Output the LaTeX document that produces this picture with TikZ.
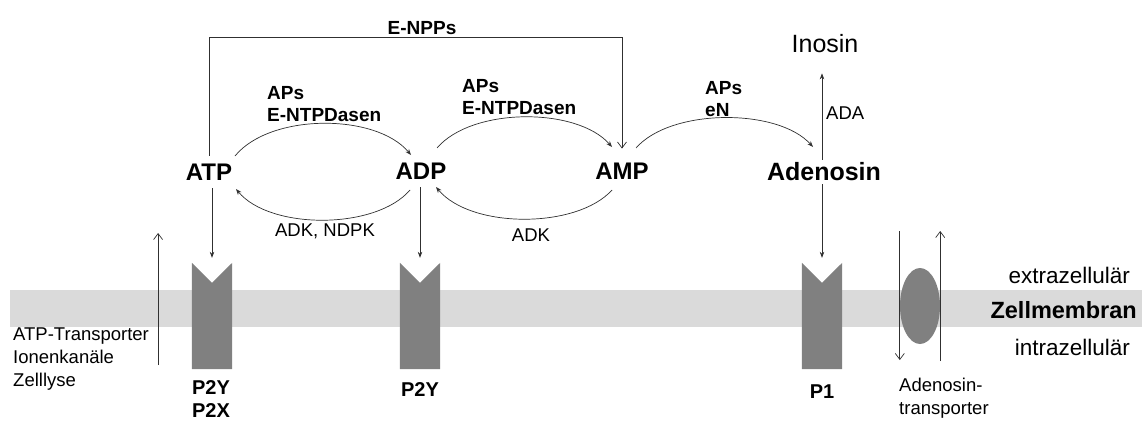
\documentclass[tikz,border=0pt]{standalone}
\usepackage{fontspec}
\setmainfont{Liberation Sans}
\usetikzlibrary{arrows.meta,calc,shapes.geometric}
\definecolor{membr}{HTML}{DADADA}
\definecolor{recep}{HTML}{808080}
\definecolor{ln}{HTML}{303030}
\begin{document}
\begin{tikzpicture}[x=1pt,y=-1pt,
  mol/.style={font=\fontsize{24}{28}\selectfont\bfseries,inner xsep=2pt,inner ysep=8pt},
  enz/.style={font=\fontsize{19}{22.5}\selectfont\bfseries,align=left,inner sep=0pt,anchor=west},
  reg/.style={font=\fontsize{18.5}{23}\selectfont,align=left,inner sep=0pt},
  side/.style={font=\fontsize{22.5}{26}\selectfont,inner sep=0pt,anchor=east},
  rlabel/.style={font=\fontsize{20}{22.5}\selectfont\bfseries,align=center,inner sep=0pt},
  rbox/.style={minimum width=40pt,minimum height=106pt,inner sep=0pt},
  conn/.style={draw=ln,line width=0.7pt},
  farr/.style={conn,-{Stealth[length=6pt,width=4.5pt]}},
  oarr/.style={conn,-{Straight Barb[length=6pt,width=9pt,line width=0.7pt]}}
]
\useasboundingbox (0,0) rectangle (1142,421);
% membrane
\fill[membr] (10,290) rectangle (1142,327);

% molecules
\node[mol] (ATP) at (209,172) {ATP};
\node[mol] (ADP) at (421,171) {ADP};
\node[mol] (AMP) at (622,171) {AMP};
\node[mol,font=\fontsize{25}{28}\selectfont\bfseries,inner ysep=3pt] (ADO) at (824,172) {Adenosin};
\node[font=\fontsize{25}{28}\selectfont,inner sep=2pt] (INO) at (825,44) {Inosin};

% enzyme labels
\node[font=\fontsize{19}{22}\selectfont\bfseries,inner sep=3pt] (ENPP) at (422,28) {E-NPPs};
\node[enz] (E1) at (267,104) {APs\\E-NTPDasen};
\node[enz] (E2) at (462,97) {APs\\E-NTPDasen};
\node[enz] (E3) at (705,99) {APs\\eN};
\node[reg,anchor=center] (K1) at (325,231) {ADK, NDPK};
\node[reg,anchor=center] (K2) at (531,235) {ADK};
\node[reg,anchor=west] (ADA) at (826,113) {ADA};

% receptors (placeholders + shapes)
\node[rbox] (R1) at (212,316) {};
\node[rbox] (R2) at (420,316) {};
\node[rbox] (R3) at (822,316) {};
\foreach \r in {R1,R2,R3}{
  \fill[recep] (\r.north west) -- ($(\r.north)+(0,20)$) -- (\r.north east) -- (\r.south east) -- (\r.south west) -- cycle;
}
\node[rlabel] (L1) at (211,399) {P2Y\\P2X};
\node[rlabel] (L2) at (420,390) {P2Y};
\node[rlabel] (L3) at (822,392) {P1};

% transporter
\node[ellipse,fill=recep,minimum width=40pt,minimum height=76pt,inner sep=0pt] (ENT) at (920,306) {};
\node[reg,anchor=north west] (TL) at (899,378) {Adenosin-\\transporter};

% side labels
\node[side] (EX) at (1130,275) {extrazellulär};
\node[side,font=\fontsize{23.5}{26}\selectfont\bfseries] (ZM) at (1137,310) {Zellmembran};
\node[side] (IN) at (1130,347) {intrazellulär};
\node[reg,anchor=north west] (SRC) at (13,328) {ATP-Transporter\\Ionenkanäle\\Zelllyse};

% E-NPPs bracket
\draw[oarr] (ATP.north) |- (ENPP.south) -| ([yshift=6pt]AMP.north);

% reaction arcs
\draw[farr] ($(ATP)+(26,-16)$) .. controls +(35,-43) and +(-35,-42) .. ($(ADP)+(-10,-16)$);
\draw[farr] ($(ADP)+(-11,19)$) .. controls +(-34,40) and +(34,41) .. ($(ATP)+(27,17)$);
\draw[farr] ($(ADP)+(16,-23)$) .. controls +(35,-41) and +(-35,-40) .. ($(AMP)+(-10,-24)$);
\draw[farr] ($(AMP)+(-10,19)$) .. controls +(-35,39) and +(35,42) .. ($(ADP)+(15,16)$);
\draw[farr] ($(AMP)+(14,-23)$) .. controls +(35,-40) and +(-35,-39) .. ($(ADO)+(-11,-25)$);

% vertical arrows
\draw[farr,shorten >=5pt] (R1.north |- ATP.south) -- (R1.north);
\draw[farr,shorten >=5pt] (R2.north |- ADP.south) -- (R2.north);
\draw[farr,shorten >=5pt] (R3.north |- ADO.south) -- (R3.north);
\draw[farr] (ADO.north -| R3.north) -- ($(INO.south -| R3.north)+(0,18)$);

% transport arrows
\draw[oarr] ($(SRC.north east)+(9,37)$) -- ($(SRC.north east)+(9,-95)$);
\draw[oarr] ($(ENT.west)+(0,-75)$) -- ($(ENT.west)+(0,54)$);
\draw[oarr] ($(ENT.east)+(0,55)$) -- ($(ENT.east)+(0,-75)$);
\end{tikzpicture}
\end{document}
